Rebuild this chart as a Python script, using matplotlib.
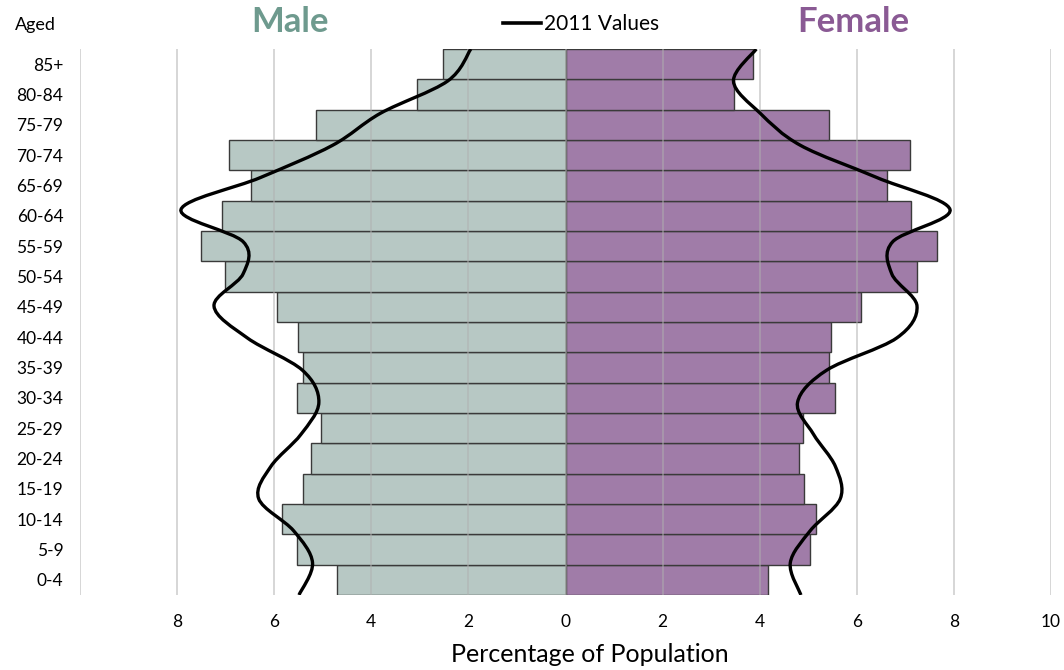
import numpy as np
import matplotlib
matplotlib.use("Agg")
import matplotlib.pyplot as plt
from matplotlib.path import Path
from matplotlib.patches import PathPatch
from matplotlib.lines import Line2D

plt.rcParams['font.family'] = ['Lato', 'DejaVu Sans']

# age groups, youngest first
ages = ["0-4", "5-9", "10-14", "15-19", "20-24", "25-29", "30-34", "35-39", "40-44",
        "45-49", "50-54", "55-59", "60-64", "65-69", "70-74", "75-79", "80-84", "85+"]
male = [4.71, 5.53, 5.83, 5.40, 5.24, 5.03, 5.53, 5.40, 5.50,
        5.94, 7.01, 7.51, 7.08, 6.47, 6.93, 5.14, 3.06, 2.52]
female = [4.18, 5.03, 5.15, 4.91, 4.81, 4.89, 5.56, 5.43, 5.47,
          6.08, 7.23, 7.65, 7.11, 6.62, 7.10, 5.43, 3.48, 3.86]
# 2011 values (smoothed line)
male_2011 = [5.49, 5.21, 5.60, 6.32, 6.07, 5.45, 5.08, 5.42, 6.55,
             7.24, 6.64, 6.64, 7.92, 6.28, 4.80, 3.81, 2.43, 1.95]
female_2011 = [4.85, 4.63, 5.04, 5.66, 5.56, 5.11, 4.78, 5.38, 6.82,
               7.24, 6.72, 6.74, 7.92, 6.41, 4.84, 4.01, 3.46, 3.93]

xticks = [-10, -8, -6, -4, -2, 0, 2, 4, 6, 8, 10]
xticklabels = ["", "8", "6", "4", "2", "0", "2", "4", "6", "8", "10"]

male_col = "#b7c8c4"
female_col = "#a07ca8"


def smooth_path(xs, ys):
    # Catmull-Rom through the points, drawn as cubic bezier pieces
    p = np.column_stack([xs, ys])
    p = np.vstack([p[0], p, p[-1]])
    verts = [p[1]]
    codes = [Path.MOVETO]
    for i in range(1, len(p) - 2):
        c1 = p[i] + (p[i + 1] - p[i - 1]) / 6.0
        c2 = p[i + 1] - (p[i + 2] - p[i]) / 6.0
        verts += [c1, c2, p[i + 1]]
        codes += [Path.CURVE4] * 3
    return Path(verts, codes)


fig = plt.figure(figsize=(10.64, 6.70), dpi=100)
ax = fig.add_axes([80 / 1064, 1 - 595 / 670, 971 / 1064, 546 / 670])

y = np.arange(len(ages))
ax.barh(y, -np.array(male), height=1.0, color=male_col, edgecolor="#3a3a3a", linewidth=1.0, zorder=2)
ax.barh(y, female, height=1.0, color=female_col, edgecolor="#3a3a3a", linewidth=1.0, zorder=2)

for xv in xticks:
    ax.axvline(xv, color="#b0b0b0", alpha=0.55, linewidth=1.3, zorder=3)

ly = np.linspace(-0.5, len(ages) - 0.5, len(ages))
for vals in (-np.array(male_2011), np.array(female_2011)):
    ax.add_patch(PathPatch(smooth_path(vals, ly), facecolor="none", edgecolor="black",
                           linewidth=2.4, zorder=4, capstyle="butt"))

ax.set_xlim(-10, 10)
ax.set_ylim(-0.5, len(ages) - 0.5)
ax.set_xticks(xticks)
ax.set_xticklabels(xticklabels, fontsize=12.5)
ax.set_yticks(y)
ax.set_yticklabels(ages, fontsize=12.5)
ax.tick_params(axis="both", length=0)
ax.tick_params(axis="x", pad=14)
ax.tick_params(axis="y", pad=12)
for s in ax.spines.values():
    s.set_visible(False)

fig.text(590 / 1064, 1 - 654 / 670, "Percentage of Population", fontsize=18, ha="center", va="center")
fig.text(15 / 1064, 1 - 25 / 670, "Aged", fontsize=13, va="center", ha="left")
fig.text(290 / 1064, 1 - 22 / 670, "Male", fontsize=25, fontweight="bold", color="#6e9a8e",
         va="center", ha="center")
fig.text(853 / 1064, 1 - 22 / 670, "Female", fontsize=25, fontweight="bold", color="#8a5a94",
         va="center", ha="center")
fig.legend(handles=[Line2D([], [], color="black", linewidth=2.6, label="2011 Values")],
           loc="center", bbox_to_anchor=(581 / 1064, 1 - 24 / 670), frameon=False,
           fontsize=15, handlelength=1.8, handletextpad=0.15, borderaxespad=0)

fig.savefig("out.png", dpi=100)
